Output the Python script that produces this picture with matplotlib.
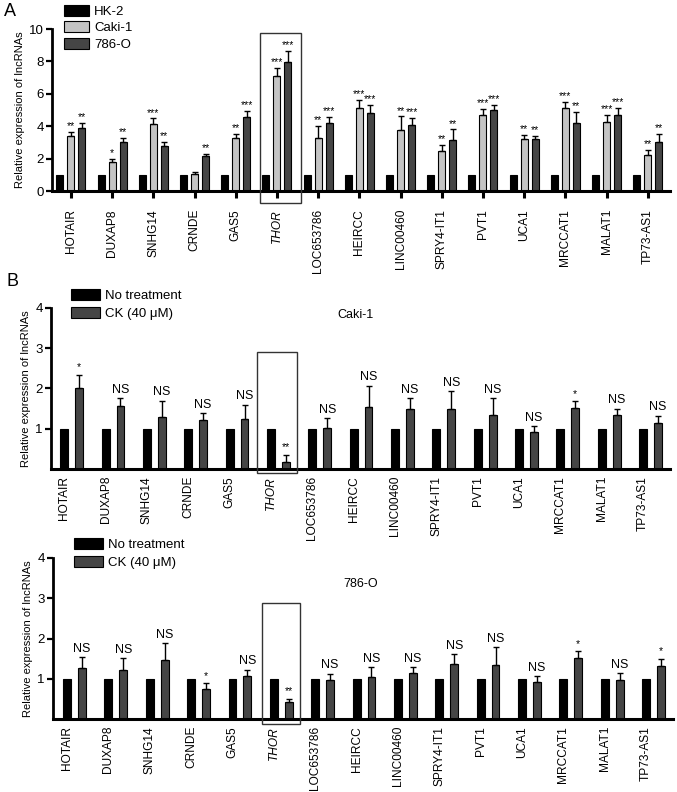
import numpy as np
import matplotlib
matplotlib.use("Agg")
import matplotlib.pyplot as plt
from matplotlib.patches import Rectangle

plt.rcParams['font.family'] = ['Liberation Sans', 'DejaVu Sans']

genes = ['HOTAIR', 'DUXAP8', 'SNHG14', 'CRNDE', 'GAS5', 'THOR', 'LOC653786', 'HEIRCC',
         'LINC00460', 'SPRY4-IT1', 'PVT1', 'UCA1', 'MRCCAT1', 'MALAT1', 'TP73-AS1']

# panel A
hk2 = [1] * 15
caki = [3.41, 1.77, 4.15, 1.07, 3.25, 7.12, 3.25, 5.10, 3.78, 2.49, 4.67, 3.21, 5.10, 4.24, 2.20]
caki_err = [0.25, 0.19, 0.33, 0.10, 0.25, 0.47, 0.78, 0.50, 0.82, 0.37, 0.37, 0.25, 0.37, 0.45, 0.35]
o786 = [3.89, 3.02, 2.78, 2.14, 4.59, 7.98, 4.18, 4.80, 4.10, 3.13, 5.02, 3.19, 4.22, 4.67, 3.02]
o786_err = [0.31, 0.27, 0.24, 0.16, 0.33, 0.66, 0.39, 0.50, 0.40, 0.67, 0.27, 0.21, 0.68, 0.43, 0.50]
caki_sig = ['**', '*', '***', '', '**', '***', '**', '***', '**', '**', '***', '**', '***', '***', '**']
o786_sig = ['**', '**', '**', '**', '***', '***', '***', '***', '***', '**', '***', '**', '**', '***', '**']

# panel B (Caki-1, CK treatment)
ctrl = [1] * 15
ck_caki = [2.00, 1.57, 1.28, 1.22, 1.25, 0.17, 1.02, 1.53, 1.48, 1.50, 1.35, 0.91, 1.51, 1.33, 1.15]
ck_caki_err = [0.34, 0.19, 0.42, 0.17, 0.35, 0.19, 0.24, 0.54, 0.28, 0.43, 0.41, 0.15, 0.17, 0.17, 0.17]
ck_caki_sig = ['*', 'NS', 'NS', 'NS', 'NS', '**', 'NS', 'NS', 'NS', 'NS', 'NS', 'NS', '*', 'NS', 'NS']

# panel B (786-O, CK treatment)
ck_786 = [1.26, 1.22, 1.46, 0.74, 1.06, 0.41, 0.96, 1.04, 1.14, 1.36, 1.34, 0.91, 1.51, 0.97, 1.32]
ck_786_err = [0.27, 0.29, 0.42, 0.15, 0.16, 0.09, 0.17, 0.24, 0.15, 0.25, 0.44, 0.16, 0.17, 0.17, 0.18]
ck_786_sig = ['NS', 'NS', 'NS', '*', 'NS', '**', 'NS', 'NS', 'NS', 'NS', 'NS', 'NS', '*', 'NS', '*']

W, H = 677, 792
fig = plt.figure(figsize=(W / 100, H / 100), dpi=100)

light = '#c4c4c4'
dark = '#454545'
x = np.arange(len(genes))
ylab = 'Relative expression of lncRNAs'


def box(ax, x0, x1, y0, y1):
    ax.add_patch(Rectangle((x0, y0), x1 - x0, y1 - y0, fill=False, edgecolor='#333333',
                           linewidth=1.0, clip_on=False, zorder=5))


def style(ax):
    for s in ['top', 'right']:
        ax.spines[s].set_visible(False)
    ax.spines['left'].set_linewidth(2)
    ax.spines['bottom'].set_linewidth(2.2)
    ax.tick_params(axis='y', direction='out', length=4, width=1.6, labelsize=9.5, pad=2)


def ax_px(l, r, top, bot):
    return fig.add_axes([l / W, 1 - bot / H, (r - l) / W, (bot - top) / H])


# ---------- A ----------
axA = ax_px(52, 670, 29, 191)
style(axA)
w = 0.17
off = 0.267
b1 = axA.bar(x - off, hk2, w, color='black', edgecolor='black', linewidth=0.8, label='HK-2')
b2 = axA.bar(x, caki, w, color=light, edgecolor='black', linewidth=0.8, label='Caki-1')
b3 = axA.bar(x + off, o786, w, color=dark, edgecolor='black', linewidth=0.8, label='786-O')
axA.errorbar(x, caki, yerr=[np.zeros(15), caki_err], fmt='none', ecolor='black',
             elinewidth=1, capsize=2.4, capthick=1)
axA.errorbar(x + off, o786, yerr=[np.zeros(15), o786_err], fmt='none', ecolor='black',
             elinewidth=1, capsize=2.4, capthick=1)
for i in range(15):
    axA.text(x[i], caki[i] + caki_err[i] + 0.05, caki_sig[i], ha='center', va='bottom', fontsize=7.5)
    axA.text(x[i] + off, o786[i] + o786_err[i] + 0.05, o786_sig[i], ha='center', va='bottom', fontsize=7.5)
axA.set_xlim(-0.46, 14.54)
axA.set_ylim(0, 10)
axA.set_yticks([0, 2, 4, 6, 8, 10])
axA.set_xticks(x)
axA.set_xticklabels(genes, rotation=90, fontsize=8.6)
axA.tick_params(axis='x', direction='out', length=5, width=2.2, pad=8)
axA.get_xticklabels()[5].set_style('italic')
axA.set_ylabel(ylab, fontsize=8, labelpad=3)
box(axA, 5 - 0.41, 5 + 0.58, -0.74, 9.75)
axA.legend(handles=[b1, b2, b3], loc='upper left', bbox_to_anchor=(64 / W, 1 - 5 / H),
           bbox_transform=fig.transFigure, frameon=False, fontsize=9.5,
           handlelength=1.9, handleheight=0.9, labelspacing=0.25, handletextpad=0.4,
           borderaxespad=0, borderpad=0)
fig.text(4 / W, 1 - 11 / H, 'A', fontsize=13, va='center')


# ---------- B ----------
def ck_panel(l, r, top, bot, vals, errs, sig, name, name_x, name_y, xl, leg_x, leg_y, bx):
    ax = ax_px(l, r, top, bot)
    style(ax)
    w2 = 0.19
    o2 = 0.18
    p1 = ax.bar(x - o2, ctrl, w2, color='black', edgecolor='black', linewidth=0.8, label='No treatment')
    p2 = ax.bar(x + o2, vals, w2, color=dark, edgecolor='black', linewidth=0.8, label='CK (40 \u03bcM)')
    ax.errorbar(x + o2, vals, yerr=[np.zeros(15), errs], fmt='none', ecolor='black',
                elinewidth=1, capsize=2.4, capthick=1)
    for i in range(15):
        t = sig[i]
        fs = 9 if t == 'NS' else 7.5
        ax.text(x[i] + o2, vals[i] + errs[i] + 0.06, t, ha='center', va='bottom', fontsize=fs)
    ax.set_xlim(xl[0], xl[1])
    ax.set_ylim(0, 4)
    ax.set_yticks([1, 2, 3, 4])
    ax.set_xticks(x - o2)
    ax.set_xticklabels(genes, rotation=90, fontsize=8.6)
    ax.tick_params(axis='x', length=0, pad=5)
    ax.get_xticklabels()[5].set_style('italic')
    ax.set_ylabel(ylab, fontsize=8, labelpad=3)
    box(ax, 5 + bx[0], 5 + bx[1], bx[2], bx[3])
    ax.legend(handles=[p1, p2], loc='upper left', bbox_to_anchor=(leg_x / W, 1 - leg_y / H),
              bbox_transform=fig.transFigure, frameon=False, fontsize=9.5,
              handlelength=2.2, handleheight=0.9, labelspacing=0.4, handletextpad=0.4,
              borderaxespad=0, borderpad=0)
    fig.text(name_x / W, 1 - name_y / H, name, fontsize=9, va='center')
    return ax


ck_panel(51, 670, 308, 469, ck_caki, ck_caki_err, ck_caki_sig, 'Caki-1', 337, 315,
         (-0.5, 14.47), 71, 289, (-0.51, 0.45, -0.1, 2.9))
fig.text(6 / W, 1 - 282 / H, 'B', fontsize=13, va='center')

ck_panel(53, 673, 558, 719, ck_786, ck_786_err, ck_786_sig, '786-O', 343, 584,
         (-0.52, 14.47), 74, 538, (-0.47, 0.45, -0.12, 2.88))

fig.savefig('out.png', dpi=100)
